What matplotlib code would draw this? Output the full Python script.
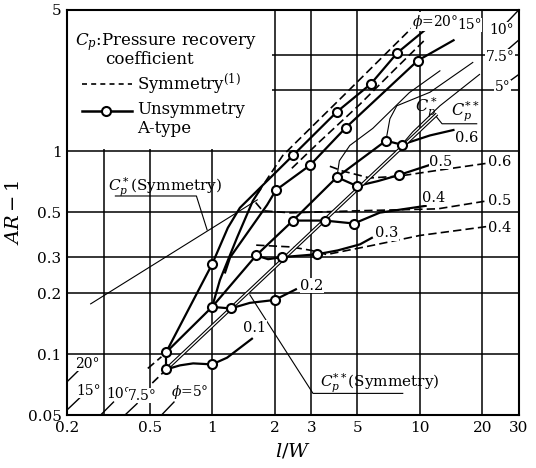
import matplotlib.pyplot as plt
from matplotlib.patches import Rectangle

plt.rcParams['font.family'] = ['DejaVu Serif']
plt.rcParams['mathtext.fontset'] = 'dejavuserif'

# values: x = l/W, y = AR-1

# unsymmetry A-type test points (circles)
pt_lw = [0.60, 0.60, 1.0, 1.0, 1.23, 2.0, 1.0, 1.63, 2.17, 3.2, 2.03, 2.45, 3.49,
         4.82, 2.45, 2.96, 3.99, 4.98, 7.9, 3.99, 4.4, 6.87, 8.19, 5.8, 7.8, 9.78]
pt_ar = [0.102, 0.084, 0.089, 0.171, 0.168, 0.185, 0.278, 0.307, 0.301, 0.311, 0.645, 0.456, 0.456,
         0.441, 0.956, 0.855, 0.747, 0.675, 0.764, 1.57, 1.31, 1.13, 1.08, 2.15, 3.07, 2.81]

# unsymmetry Cp contours (solid)
cp01_x = [0.60, 0.70, 0.81, 1.0, 1.18, 1.57]
cp01_y = [0.084, 0.088, 0.090, 0.089, 0.096, 0.120]
cp02_x = [1.0, 1.23, 1.52, 2.0, 2.56]
cp02_y = [0.171, 0.168, 0.179, 0.185, 0.210]
cp03_x = [1.63, 1.86, 2.17, 3.2, 4.03, 5.15, 5.94]
cp03_y = [0.307, 0.294, 0.301, 0.311, 0.325, 0.348, 0.377]
cp04_x = [2.45, 3.49, 4.82, 6.42, 10.8]
cp04_y = [0.456, 0.456, 0.441, 0.499, 0.54]
cp05_x = [3.99, 4.98, 6.28, 7.9, 11.4]
cp05_y = [0.747, 0.675, 0.714, 0.764, 0.864]
cp06_x = [6.87, 8.19, 11.2, 14.7]
cp06_y = [1.13, 1.08, 1.2, 1.28]
link_x = [0.60, 0.60]
link_y = [0.084, 0.102]

# symmetry Cp contours (dashed)
sym04_x = [1.63, 2.4, 3.0, 3.56, 6.0, 10.0, 21.0]
sym04_y = [0.345, 0.338, 0.325, 0.31, 0.345, 0.385, 0.426]
sym05_x = [1.62, 1.75, 2.37, 5.15, 12.2, 21.0]
sym05_y = [0.56, 0.51, 0.498, 0.51, 0.521, 0.57]
sym06_x = [3.69, 4.26, 5.75, 7.9, 12.5, 21.0]
sym06_y = [0.845, 0.80, 0.74, 0.755, 0.81, 0.874]
symd1_x = [1.66, 2.19, 2.65, 4.12, 6.42, 9.46]
symd1_y = [0.624, 0.956, 1.16, 1.81, 2.84, 4.21]
symd2_x = [2.42, 3.30, 5.15, 7.58, 10.6]
symd2_y = [0.826, 1.12, 1.71, 2.54, 3.56]

# thick diagonal lines
diag_a_x = [0.60, 1.0, 1.19, 1.36, 1.66, 2.45, 3.99, 5.8, 7.8, 12.1]
diag_a_y = [0.102, 0.278, 0.42, 0.527, 0.645, 0.956, 1.57, 2.15, 3.07, 4.45]
diag_b_x = [1.0, 1.09, 1.32, 1.57, 1.72]
diag_b_y = [0.171, 0.232, 0.377, 0.57, 0.66]
diag_c_x = [1.15, 1.22, 1.84, 2.03, 2.96, 4.4, 9.78, 14.7]
diag_c_y = [0.25, 0.30, 0.545, 0.645, 0.855, 1.31, 2.81, 3.56]
diag_d_x = [0.60, 1.0, 1.63, 2.45, 3.99, 6.87]
diag_d_y = [0.102, 0.171, 0.307, 0.456, 0.747, 1.13]
cpss_x = [0.60, 12.1]          # Cp** (double line)
cpss_y = [0.084, 1.53]
ext_d_x = [0.49, 0.57]
ext_d_y = [0.085, 0.097]
ext_ss_x = [0.515, 0.58]
ext_ss_y = [0.072, 0.081]

# thin curves
cpstar_sym_x = [0.26, 1.65]
cpstar_sym_y = [0.177, 0.577]
cpstar_up_x = [6.87, 7.18, 7.75, 11.2, 18.0]
cpstar_up_y = [1.13, 1.45, 1.68, 1.96, 2.75]
cpss_up_x = [8.19, 9.25, 12.5, 19.4]
cpss_up_y = [1.08, 1.25, 1.68, 2.4]
cp05_up_x = [3.99, 4.1, 4.6, 5.94, 8.9, 12.5]
cp05_up_y = [0.747, 0.9, 1.07, 1.3, 1.95, 2.5]

# leader lines
lead_a_x = [0.342, 0.84, 0.946]
lead_a_y = [0.603, 0.603, 0.41]
lead_b_x = [8.28, 3.06, 1.52]
lead_b_y = [0.064, 0.064, 0.196]
lead_c_x = [11.8, 12.8, 18.8]
lead_c_y = [1.52, 1.37, 1.37]

# short phi marks at the frame
phi_ticks = [((0.2, 0.073), (0.23, 0.084)), ((0.2, 0.053), (0.235, 0.062)),
             ((0.29, 0.05), (0.335, 0.058)), ((0.38, 0.05), (0.435, 0.057)),
             ((0.57, 0.05), (0.655, 0.058)), ((26.1, 4.3), (30, 5.0)),
             ((26.5, 3.18), (30, 3.55)), ((26.5, 2.19), (30, 2.4))]
phi_lo_labels = ['20°', '15°', '10°', '7.5°', r'$\phi$=5°']
phi_lo_x = [0.251, 0.254, 0.353, 0.461, 0.784]
phi_lo_y = [0.0894, 0.066, 0.0638, 0.0624, 0.0653]
phi_hi_labels = [r'$\phi$=20°', '15°', '10°', '7.5°', '5°']
phi_hi_x = [11.8, 17.4, 24.8, 24.3, 25.1]
phi_hi_y = [4.36, 4.21, 3.98, 2.94, 2.07]

cp_labels = ['0.1', '0.2', '0.3', '0.4', '0.5', '0.6']
cp_label_x = [1.41, 2.65, 6.07, 10.3, 11.1, 14.7]
cp_label_y = [0.135, 0.217, 0.394, 0.59, 0.89, 1.16]
sym_labels = ['0.4', '0.5', '0.6']
sym_label_x = [21.2, 21.2, 21.2]
sym_label_y = [0.42, 0.57, 0.89]

xticks = [0.2, 0.3, 0.5, 1, 2, 3, 5, 10, 20, 30]
xtick_labels = ['0.2', '', '0.5', '1', '2', '3', '5', '10', '20', '30']
yticks = [0.05, 0.1, 0.2, 0.3, 0.5, 1, 2, 3, 5]
ytick_labels = ['0.05', '0.1', '0.2', '0.3', '0.5', '1', '', '', '5']

fig = plt.figure(figsize=(5.36, 4.68), dpi=100)
ax = fig.add_axes([0.125, 0.113, 0.843, 0.866])
ax.set_xscale('log')
ax.set_yscale('log')
ax.set_xlim(0.2, 30)
ax.set_ylim(0.05, 5)
ax.set_xticks(xticks)
ax.set_xticklabels(xtick_labels, fontsize=11)
ax.set_yticks(yticks)
ax.set_yticklabels(ytick_labels, fontsize=11)
ax.minorticks_off()
ax.tick_params(length=0, pad=4)
ax.grid(True, color='black', lw=1.1)
ax.set_axisbelow(True)
for s in ax.spines.values():
    s.set_linewidth(1.5)

# white area behind the key
ax.add_patch(Rectangle((0.2, 1.03), 1.75, 3.97, facecolor='white', edgecolor='none', zorder=1.5))

thick = dict(color='black', lw=1.6, zorder=3, solid_capstyle='butt')
thin = dict(color='black', lw=0.8, zorder=3)
dash = dict(color='black', lw=1.2, zorder=3, dashes=(5, 2.5))

for xs, ys in [(cp01_x, cp01_y), (cp02_x, cp02_y), (cp03_x, cp03_y), (cp04_x, cp04_y),
               (cp05_x, cp05_y), (cp06_x, cp06_y), (link_x, link_y),
               (diag_a_x, diag_a_y), (diag_b_x, diag_b_y), (diag_c_x, diag_c_y), (diag_d_x, diag_d_y)]:
    ax.plot(xs, ys, **thick)

for xs, ys in [(sym04_x, sym04_y), (sym05_x, sym05_y), (sym06_x, sym06_y),
               (symd1_x, symd1_y), (symd2_x, symd2_y), (ext_d_x, ext_d_y), (ext_ss_x, ext_ss_y)]:
    ax.plot(xs, ys, **dash)

for xs, ys in [(cpstar_sym_x, cpstar_sym_y), (cpstar_up_x, cpstar_up_y), (cpss_up_x, cpss_up_y),
               (cp05_up_x, cp05_up_y), (lead_a_x, lead_a_y), (lead_b_x, lead_b_y), (lead_c_x, lead_c_y)]:
    ax.plot(xs, ys, **thin)

# Cp** drawn as a double line
ax.plot(cpss_x, cpss_y, color='black', lw=2.6, zorder=3.2, solid_capstyle='butt')
ax.plot(cpss_x, cpss_y, color='white', lw=1.0, zorder=3.3, solid_capstyle='butt')

for (x0, y0), (x1, y1) in phi_ticks:
    ax.plot([x0, x1], [y0, y1], color='black', lw=1.0, zorder=3, clip_on=False)

ax.plot(pt_lw, pt_ar, ls='none', marker='o', ms=6.5, mfc='white', mec='black', mew=1.5, zorder=5)

box = dict(facecolor='white', edgecolor='none', pad=0.3)
for t, x, y in zip(phi_lo_labels, phi_lo_x, phi_lo_y):
    ax.text(x, y, t, fontsize=10, ha='center', va='center', zorder=6, bbox=box)
for t, x, y in zip(phi_hi_labels, phi_hi_x, phi_hi_y):
    ax.text(x, y, t, fontsize=10, ha='center', va='center', zorder=6, bbox=box)
for t, x, y in zip(cp_labels, cp_label_x, cp_label_y):
    ax.text(x, y, t, fontsize=10.5, ha='left', va='center', zorder=6, bbox=box)
for t, x, y in zip(sym_labels, sym_label_x, sym_label_y):
    ax.text(x, y, t, fontsize=10.5, ha='left', va='center', zorder=6, bbox=box)

ax.text(10.8, 1.64, r'$C_p^*$', fontsize=11.5, ha='center', va='center', zorder=6)
ax.text(16.6, 1.57, r'$C_p^{**}$', fontsize=11.5, ha='center', va='center', zorder=6)
ax.text(0.594, 0.667, r'$C_p^*$(Symmetry)', fontsize=11, ha='center', va='center', zorder=6)
ax.text(6.42, 0.0722, r'$C_p^{**}$(Symmetry)', fontsize=11, ha='center', va='center', zorder=6)

# key
tr = ax.transAxes
ax.text(0.018, 0.921, r'$C_p$:Pressure recovery', transform=tr, fontsize=12, va='center', zorder=6)
ax.text(0.084, 0.877, 'coefficient', transform=tr, fontsize=12, va='center', zorder=6)
ax.plot([0.033, 0.144], [0.817, 0.817], transform=tr, color='black', lw=1.2, dashes=(3, 2.5), zorder=6)
ax.text(0.155, 0.817, r'Symmetry$^{(1)}$', transform=tr, fontsize=12, va='center', zorder=6)
ax.plot([0.033, 0.144], [0.751, 0.751], transform=tr, color='black', lw=1.8, zorder=6)
ax.plot([0.086], [0.751], transform=tr, marker='o', ms=6.5, mfc='white', mec='black', mew=1.5, zorder=7)
ax.text(0.155, 0.753, 'Unsymmetry', transform=tr, fontsize=12, va='center', zorder=6)
ax.text(0.155, 0.706, 'A-type', transform=tr, fontsize=12, va='center', zorder=6)

ax.set_xlabel(r'$l/W$', fontsize=14, labelpad=5)
ax.set_ylabel(r'$AR-1$', fontsize=14, labelpad=3)

fig.savefig('out.png', dpi=100)
